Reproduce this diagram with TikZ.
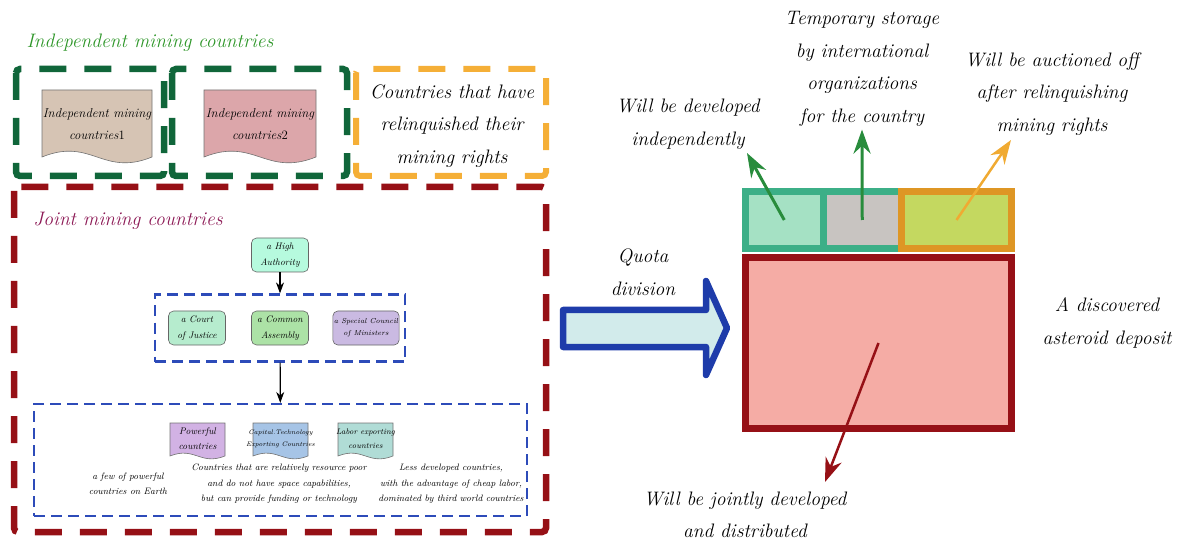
\documentclass[tikz,border=0pt]{standalone}
\usepackage{fontspec}
\usepackage{tikz}
\usetikzlibrary{positioning,shapes,arrows.meta}

\definecolor{indgreen}{RGB}{16,102,58}
\definecolor{titlegreen}{RGB}{45,150,40}
\definecolor{relorange}{RGB}{245,175,55}
\definecolor{jointred}{RGB}{150,16,22}
\definecolor{jointpurple}{RGB}{140,25,85}
\definecolor{grpblue}{RGB}{45,75,185}
\definecolor{doctan}{RGB}{214,196,180}
\definecolor{docpink}{RGB}{220,166,170}
\definecolor{authmint}{RGB}{182,250,222}
\definecolor{courtgreen}{RGB}{182,236,206}
\definecolor{assemblygreen}{RGB}{172,226,166}
\definecolor{councilpurple}{RGB}{202,186,226}
\definecolor{powerpurple}{RGB}{210,178,228}
\definecolor{capblue}{RGB}{166,196,230}
\definecolor{laborteal}{RGB}{176,220,214}
\definecolor{quotablue}{RGB}{30,60,170}
\definecolor{quotafill}{RGB}{210,235,235}
\definecolor{cellteal}{RGB}{60,175,135}
\definecolor{cellmint}{RGB}{165,225,196}
\definecolor{cellgray}{RGB}{200,196,193}
\definecolor{cellolive}{RGB}{196,216,96}
\definecolor{cellorange}{RGB}{222,150,36}
\definecolor{depositpink}{RGB}{245,172,165}
\definecolor{arrowgreen}{RGB}{40,140,60}
\definecolor{arroworange}{RGB}{240,170,50}

\tikzset{
  bigtext/.style={font=\itshape\fontsize{19.5}{32.5}\selectfont, align=center, inner sep=0pt},
  doctext/.style={font=\itshape\fontsize{12.8}{22}\selectfont, align=center, inner sep=0pt},
  smallbox/.style={draw=black!60, line width=0.6pt, rounded corners=5pt, minimum width=57pt, minimum height=34pt, align=center, inner sep=1pt, font=\itshape\fontsize{9.5}{15.5}\selectfont},
  note/.style={font=\itshape\fontsize{9.3}{15.5}\selectfont, align=center, inner sep=0pt},
  thickdash/.style={line width=6.5pt, dash pattern=on 27pt off 18pt, rounded corners=4pt},
  grpbox/.style={draw=grpblue, line width=2.2pt, dash pattern=on 11pt off 6pt, inner sep=0pt},
  cell/.style={line width=7pt, inner sep=0pt, minimum height=57pt},
  bigarrow/.style={-{Stealth[length=24pt,width=17pt]}, line width=3pt},
  linkarrow/.style={-{Stealth[length=11pt,width=8pt]}, line width=1.2pt},
}

\newcommand{\mdocshape}[5]{%
  \draw[draw=black!55, fill=#5, line width=0.6pt](#1,#2) -- (#3,#2) -- (#3,#4)
    .. controls ({#1+0.55*(#3-#1)},{#4+0.3*(#4-#2)}) and ({#1+0.45*(#3-#1)},{#4-0.3*(#4-#2)}) .. (#1,#4) -- cycle;}

\begin{document}
\begin{tikzpicture}[x=1pt,y=-1pt]
\useasboundingbox (0,0) rectangle (1187,540);

\node[bigtext, text=titlegreen] (indtitle) at (150,43) {Independent mining countries};
\draw[thickdash, draw=indgreen](16,69) rectangle (164,176);
\draw[thickdash, draw=indgreen](172,69) rectangle (347,176);
\draw[thickdash, draw=relorange, line width=6pt](356,69) rectangle (546,176);
\draw[thickdash, draw=jointred](14,187) rectangle (546,532);

\mdocshape{42}{90}{152}{157}{doctan}
\node[doctext] (ind1) at (97,124) {Independent mining\\countries\textup{1}};
\mdocshape{204}{90}{316}{157}{docpink}
\node[doctext] (ind2) at (260,124) {Independent mining\\countries\textup{2}};
\node[bigtext] (relinq) at (452,126) {Countries that have\\relinquished their\\mining rights};

\node[bigtext, text=jointpurple] (jointtitle) at (128,221) {Joint mining countries};
\node[smallbox, fill=authmint] (auth) at (280,255) {a High\\Authority};
\node[grpbox, minimum width=250pt, minimum height=67pt] (grp1) at (280,328) {};
\node[smallbox, fill=courtgreen] (court) at (197,328) {a Court\\of Justice};
\node[smallbox, fill=assemblygreen] (assembly) at (280,328) {a Common\\Assembly};
\node[smallbox, fill=councilpurple, font=\itshape\fontsize{7.2}{12}\selectfont] (council) at (366,328) {a Special Council\\of Ministers};
\node[grpbox, minimum width=493pt, minimum height=112pt] (grp2) at (280.5,460) {};
\draw[linkarrow](auth) -- (grp1);
\draw[linkarrow](grp1) -- (grp2);

\mdocshape{170}{423}{225}{456}{powerpurple}
\node[doctext, font=\itshape\fontsize{9.6}{15}\selectfont] (powerful) at (197.5,439) {Powerful\\countries};
\mdocshape{253}{423}{308}{456}{capblue}
\node[doctext, font=\itshape\fontsize{6.6}{12}\selectfont] (capital) at (280.5,439) {Capital.Technology\\Exporting Countries};
\mdocshape{338}{423}{393}{456}{laborteal}
\node[doctext, font=\itshape\fontsize{8.1}{14}\selectfont] (labor) at (365.5,439) {Labor exporting\\countries};
\node[note] (fewnote) at (128,484) {a few of powerful\\countries on Earth};
\node[note] (poornote) at (279,484) {Countries that are relatively resource poor\\and do not have space capabilities,\\but can provide funding or technology};
\node[note] (labornote) at (451,484) {Less developed countries,\\with the advantage of cheap labor,\\dominated by third world countries};

\draw[draw=quotablue, fill=quotafill, line width=6.5pt, line join=round](563,310) -- (706,310) -- (706,281) -- (727,328) -- (706,375) -- (706,347) -- (563,347) -- cycle;
\node[bigtext] (quota) at (643,272) {Quota\\division};

\node[cell, draw=cellteal, fill=cellmint, minimum width=77.5pt] (cell1) at (784.25,220) {};
\node[cell, draw=cellteal, fill=cellgray, minimum width=78.5pt] (cell2) at (862.25,220) {};
\node[cell, draw=cellorange, fill=cellolive, minimum width=110pt] (cell3) at (956.5,220) {};
\node[cell, draw=jointred, fill=depositpink, minimum width=266pt, minimum height=171pt] (deposit) at (878.5,343) {};

\node[bigtext] (lab1) at (688,124) {Will be developed\\independently};
\node[bigtext] (lab2) at (862,69) {Temporary storage\\by international\\organizations\\for the country};
\node[bigtext] (lab3) at (1052,94) {Will be auctioned off\\after relinquishing\\mining rights};
\node[bigtext] (depositlab) at (1107,323) {A discovered\\asteroid deposit};
\node[bigtext] (lab4) at (745,515) {Will be jointly developed\\and distributed};

\coordinate (tip1) at (747,153);
\coordinate (tip3) at (1011,140);
\coordinate (tip4) at (825,482);
\draw[bigarrow, draw=arrowgreen](cell1.center) -- (tip1);
\draw[bigarrow, draw=arrowgreen](cell2.center) -- ([yshift=-3pt]lab2.south);
\draw[bigarrow, draw=arroworange, line width=2.5pt](cell3.center) -- (tip3);
\draw[bigarrow, draw=jointred, line width=2.5pt](deposit.center) -- (tip4);
\end{tikzpicture}
\end{document}
